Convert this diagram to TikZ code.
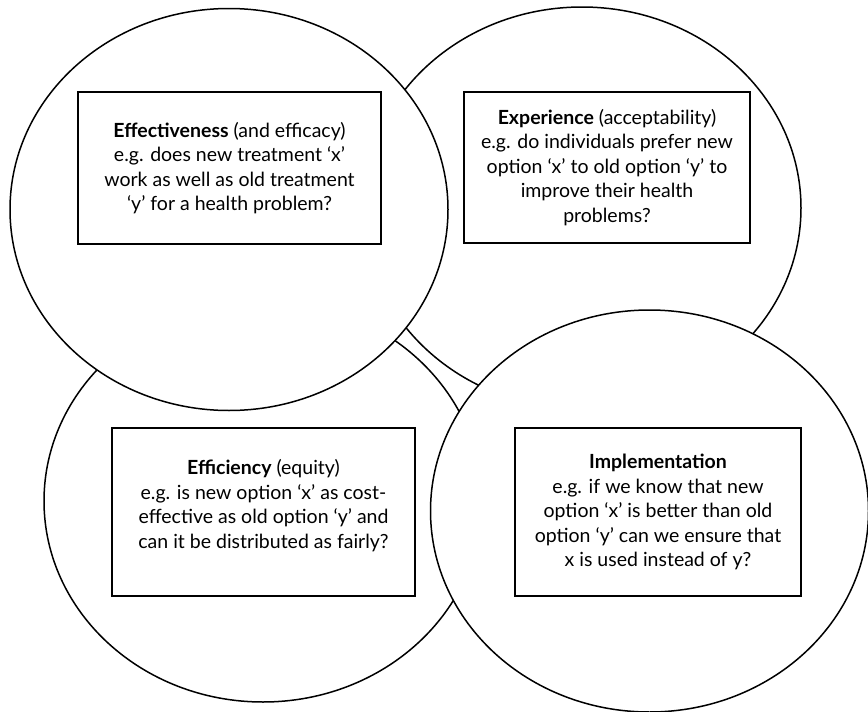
\documentclass[tikz,border=0pt]{standalone}
\usepackage{fontspec}
\setmainfont{Lato}
\usetikzlibrary{shapes.geometric}

\tikzset{
  lens/.style={ellipse, draw, fill=white, line width=1.5pt,
    minimum width=438pt, minimum height=402pt, inner sep=0pt},
  infobox/.style={draw, line width=1.6pt, align=center, inner sep=0pt,
    font=\fontsize{19.5}{24.5}\selectfont},
}

\begin{document}
\begin{tikzpicture}[x=1pt, y=-1pt]
        \useasboundingbox (0,0) rectangle (868,712);

        % Circles at the back
        \node[lens] (efficiencyring) at (263,501) {};
        \node[lens] (experiencering) at (582,208) {};

        % Circles in front
        \node[lens] (effectivenessring) at (229,209.5) {};
        \node[lens] (implementationring) at (649.5,511) {};

        % One box of text in each circle
        \node[infobox, minimum width=303pt, minimum height=152pt]
             (effectiveness) at (229.5,168)
             {\textbf{Effectiveness} (and efficacy)\\
              e.g. does new treatment `x'\\
              work as well as old treatment\\
              `y' for a health problem?};
        \node[infobox, minimum width=286pt, minimum height=151pt]
             (experience) at (607,167.5)
             {\textbf{Experience} (acceptability)\\
              e.g. do individuals prefer new\\
              option `x' to old option `y' to\\
              improve their health\\
              problems?};
        \node[infobox, minimum width=303pt, minimum height=168pt,
              text depth=16pt]
             (efficiency) at (263.5,512)
             {\textbf{Efficiency} (equity)\\
              e.g. is new option `x' as cost-\\
              effective as old option `y' and\\
              can it be distributed as fairly?};
        \node[infobox, minimum width=286pt, minimum height=168pt]
             (implementation) at (658,512)
             {\textbf{Implementation}\\
              e.g. if we know that new\\
              option `x' is better than old\\
              option `y' can we ensure that\\
              x is used instead of y?};
\end{tikzpicture}
\end{document}
